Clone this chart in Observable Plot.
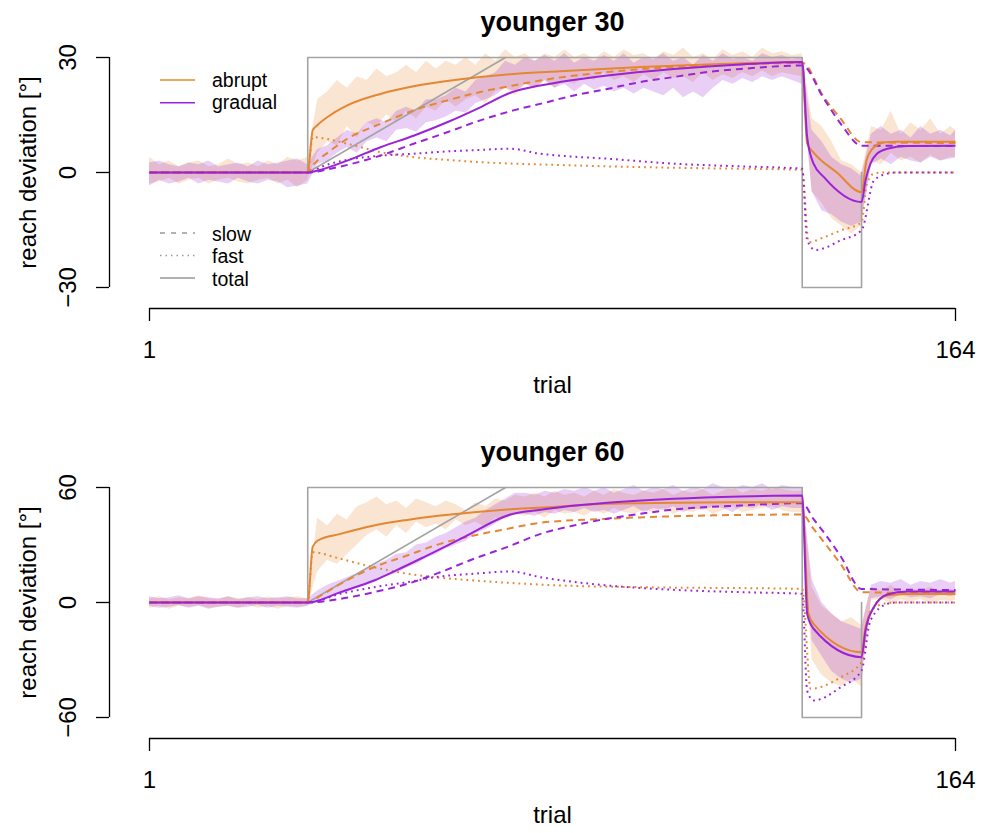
<!DOCTYPE html>
<html><head><meta charset="utf-8">
<script src="https://cdn.jsdelivr.net/npm/d3@7"></script>
<script src="https://cdn.jsdelivr.net/npm/@observablehq/plot@0.6"></script>
<style>
body{margin:0;background:#fff;}
#wrap{position:relative;width:991px;height:833px;font-family:"Liberation Sans",Arial,Helvetica,sans-serif;overflow:hidden;}
#p1,#p2{position:absolute;left:0;}
#p1{top:0}#p2{top:430px}
#legend{position:absolute;left:0;top:0;font-family:"Liberation Sans",Arial,Helvetica,sans-serif;}
</style></head><body>
<div id="wrap"><div id="p1"></div><div id="p2"></div><svg id="legend" width="300" height="300"></svg></div>
<script>
// ---------- text ----------
const panelTitles = ["younger 30", "younger 60"];
const yLabel = "reach deviation [°]";
const xLabel = "trial";
const groupLabels = ["abrupt", "gradual"];
const componentLabels = ["slow", "fast", "total"];
const xTicks = [1, 164];
const yTicks30 = [-30, 0, 30];
const yTicks60 = [-60, 0, 60];

// ---------- perturbation schedules [trial, deg] ----------
const schedule30Abrupt = [[1,0],[33,0],[33,30],[133,30],[133,-30],[145,-30],[145,0]];
const schedule30Gradual = [[33,0],[73,30]];
const schedule60Abrupt = [[1,0],[33,0],[33,60],[133,60],[133,-60],[145,-60],[145,0]];
const schedule60Gradual = [[33,0],[73,60]];

// ---------- model fits [trial, deg] (younger 30) ----------
const y30AbruptTotal = [[1,0],[33,0],[34,11],[35,12.4],[37.6,15],[41,17.5],[47.7,20.5],[54.4,22.5],[63.9,24.3],[74.6,25.7],[84,26.4],[100.3,27.5],[113.8,28.2],[133,28.8],[134,7.5],[135.3,5.2],[140,0],[145,-5.1],[146,3.1],[147.5,6.6],[149.4,7.8],[152,8],[164,8]];
const y30GradualTotal = [[1,0],[33,0],[35,0.5],[41,3.1],[47.7,6.6],[54.4,9.6],[61.2,13.1],[67.9,17],[74,20.8],[80,22.7],[84,23.6],[93.6,25.3],[107,27],[120.5,28.2],[133,28.8],[134,9.2],[135.3,2.3],[137.4,-1.2],[145,-7.7],[145.8,-2.1],[146.8,2.3],[148.1,4.9],[150.2,6.2],[154.2,6.9],[164,7]];
const y30AbruptSlow = [[1,0],[33,0],[34,1.8],[37.6,5.7],[41,8.8],[47.7,12.7],[54.4,16.2],[61.2,18.8],[67.9,21],[74.6,22.7],[80,24],[93.6,26.2],[107,27.5],[120.5,28.2],[133,28.6],[137.4,19.6],[140.8,14],[145,7.9],[164,7.7]];
const y30GradualSlow = [[1,0],[33,0],[37.6,1],[47.7,4.4],[54.4,7.5],[61.2,10.5],[67.9,13.6],[74.6,16.2],[80,17.9],[86.8,20.1],[93.6,21.8],[100.3,23.6],[107,24.9],[113.8,26.2],[120.5,27],[133,27.9],[137.4,19.2],[140.8,12.7],[145,7],[164,6.9]];
const y30AbruptFast = [[1,0],[33,0],[34,9.2],[41,7.5],[47.7,5.3],[54.4,4],[61.2,3.3],[67.9,2.7],[74.6,2.3],[80,2.1],[100.3,1.4],[113.8,1.1],[133,0.7],[134.3,-18.2],[137.4,-16.9],[140.8,-15.1],[145,-13],[146.1,-2.9],[147.5,-0.3],[149,0],[164,0]];
const y30GradualFast = [[1,0],[33,0],[35.6,1.4],[37.6,2.3],[41,3.3],[47.7,4.4],[54.4,4.9],[61.2,5.5],[67.9,5.9],[74,6.2],[80,4.9],[84,4.4],[93.6,3.6],[107,2.3],[120.5,1.6],[133,1],[134,-17.7],[135.7,-20.2],[140.8,-17.7],[145,-15.1],[147.5,-2.1],[150.2,-0.3],[152,0],[164,0]];

// ---------- model fits [trial, deg] (younger 60) ----------
const y60AbruptTotal = [[1,0],[33,0],[34,29],[35,32.3],[39.6,35.8],[46.4,40.2],[53.1,43.1],[59.8,45.4],[66.6,47.1],[73.3,48.5],[84.1,50.1],[93.6,51.5],[107,52],[120.5,52.3],[133,52.3],[134.3,-5.9],[135.3,-11.1],[145,-25.9],[145.8,-12.9],[147.5,-2.4],[150.2,3.7],[154.2,4.5],[164,4.5]];
const y60GradualTotal = [[1,0],[33,0],[34,0.3],[39.6,5.4],[46.4,11.5],[51.1,17],[56.5,23.7],[64.6,34.1],[74,45.9],[80.1,48.4],[84.1,49.7],[93.6,52],[107,54.1],[120.5,55.3],[133,55.8],[134,-5.9],[135.3,-13.7],[145,-28.5],[145.8,-14.6],[147.5,-2.4],[150.2,4.2],[154.2,5.7],[164,5.7]];
const y60AbruptSlow = [[1,0],[33,0],[35.6,3.6],[39.6,9.7],[46.4,18.4],[53.1,24.5],[59.8,30.6],[66.6,35],[73.3,38.4],[80.1,41.6],[93.6,43.7],[107,45],[120.5,45.7],[133,45.9],[135.3,38.4],[137.4,31.5],[140.8,20],[145,5.4],[164,4.8]];
const y60GradualSlow = [[1,0],[33,0],[39.6,1.9],[46.4,5.4],[53.1,9.7],[59.8,15.8],[66.6,22.8],[73.3,28.9],[80.1,35.8],[86.8,40.2],[93.6,43.7],[100.3,46.3],[107,48.5],[120.5,50.6],[133,51.8],[135.3,43.5],[137.4,36.5],[140.8,24],[145,7.1],[164,6.5]];
const y60AbruptFast = [[1,0],[33,0],[34,26.2],[39.6,22.8],[46.4,18.4],[53.1,15],[59.8,12.9],[66.6,11.5],[73.3,10.3],[84.1,8.9],[100.3,8],[133,7.1],[134.7,-45],[140.8,-39],[145,-31.1],[146.8,-4.2],[150.2,-0.3],[152,0],[164,0]];
const y60GradualFast = [[1,0],[33,0],[39.6,4.5],[46.4,8],[53.1,10.6],[59.8,13.6],[66.6,15],[74,16.2],[80.1,13.2],[93.6,8.9],[107,6.6],[120.5,5.4],[133,4.5],[134,-46],[135.3,-51.1],[140.8,-44.2],[145,-35.5],[146.8,-9.4],[150.2,-0.7],[152,0],[164,0]];

// ---------- data confidence bands (every other trial) ----------
const bandTrials = [1,3,5,7,9,11,13,15,17,19,21,23,25,27,29,31,
 33,35,37,39,41,43,45,47,49,51,53,55,57,59,61,63,65,67,69,71,
 73,75,77,79,81,83,85,87,89,91,93,95,97,99,101,103,105,107,109,111,
 113,115,117,119,121,123,125,127,129,131,
 133,135,137,139,141,143,
 145,147,149,151,153,155,157,159,161,163,164];

const y30AbruptHi = [4,2,3,1.5,2.5,3,1.5,2,3.5,2,2.5,1.5,3,2,4,3,
 4,19,21,24,22,25,24,27,25,26,
 28,26,29,27,29,28,30,28,31,29,
 32,30,31,29,31,30,32,30,31,29.5,
 31.5,30,32,30.5,31,29.5,31.5,30.5,32.5,30,
 31,29.5,32,30.5,31.5,30,32.5,31,31.5,30.5,
 31,14,12,8,3,2,
 0,12,11,16,10,13,11,14,10,12,
 11];
const y30AbruptLo = [-3,-2.5,-1.5,-3,-2,-1.5,-3,-2,-1.5,-2.5,-3,-2,-1.5,-3,-2,-4,
 -2,5,8,7,12,9,13,12,15,13,
 16,14,17,16,19,17,19,20,18,21,
 22,20,23,22,24,22,24,23,25,24,
 26,24,25,23.5,25.5,24,26,24.5,25,23.5,
 26,24,25.5,24.5,26,25,26.5,25,26,25.5,
 25,-5,-8,-12,-14,-16,
 -14,3,2,5,3,4,2.5,4.5,3,4,
 3.5];
const y30GradualHi = [2.5,3,2,1.5,2.5,2,3,1.5,2,2.5,1.5,3,2,2.5,3,3.5,
 2,6,7,9,11,10,13,14,13,16,
 17,16,19,19,20,22,21,24,25,26,
 29,28,30,29,30.5,29,31,28.5,30,29,
 30.5,29,31,28.5,30,29.5,31,29,30,28,
 30.5,29,31,29.5,30,29,31,30,30.5,29.5,
 30,11,8,4,2,1,
 -1,10,12,10,11,9,12,10,11,9.5,
 11];
const y30GradualLo = [-3.5,-2,-3,-2.5,-1.5,-3,-2,-2.5,-3,-1.5,-2.5,-3,-2,-2.5,-4,-3.5,
 -3,2,3,5,6.5,5,8,9,8,11,
 11.5,10.5,13,13.5,14.5,16,15.5,18,19,20,
 22,21,23,22,24,22,23,21,23,21.5,
 22.5,21,22,20.5,22,21,20,22,19.5,21,
 19.5,22,24,23,24.5,23.5,25,24,25,24,
 23,-5,-10,-11,-13,-14,
 -13,2,3.5,2,4,3,2.5,4,3,3.5,
 4];

const y60AbruptHi = [2,3,1.5,2.5,2,3.5,2,1.5,3,2,2.5,1.5,3,2,2.5,3,
 2,44,40,46,43,50,52,55,51,53,
 49,54,52,50,53,51,48,52,50,54,
 53,56,55,57,55,58,56,57,55,58,
 56,59,57,56,58,57,59,56,58,57,
 59,56,58,60,57,59,58,60,59,58,
 58,8,-2,-6,-10,-8,
 -12,8,6,9,5,7,6,8,5,7,
 6];
const y60AbruptLo = [-3,-2,-3.5,-2,-2.5,-1.5,-3,-2.5,-2,-3,-1.5,-3,-2,-3.5,-2,-2.5,
 -2,16,22,20,25,30,35,38,34,40,
 36,42,39,41,38,43,40,42,39,44,
 43,46,45,47,44,48,46,47,45,48,
 46,49,47,46,48,47,49,46,48,47,
 49,46,48,50,47,48,49,50,48,47,
 47,-30,-38,-42,-44,-40,
 -44,1,2,-1,1.5,0,2,-1,1,0.5,
 1];
const y60GradualHi = [3,2,2.5,3.5,2,3,2.5,2,3,1.5,2.5,3,2,2.5,3,2,
 2,6,9,11,13,15,18,20,22,25,
 26,30,31,34,36,39,42,44,48,51,
 54,57,57,56,58,57,59,58,60,58,
 60,57,59,61,58,60,59,61,58,60,
 59,62,60,59,61,60,62,59,61,60,
 60,12,0,-6,-10,-12,
 -14,9,11,10,12,9,11,10,12,10,
 11];
const y60GradualLo = [-2,-3,-2.5,-1.5,-3,-2,-3.5,-2.5,-2,-3,-2.5,-1.5,-3,-2,-2.5,-3,
 -2,0,2,4,5,8,9,11,14,15,
 18,20,23,25,28,30,32,36,38,41,
 44,46,46,45,47,46,48,47,49,47,
 48,46,48,50,47,49,48,50,47,49,
 48,50,49,47,50,49,51,48,50,49,
 49,-20,-28,-36,-40,-42,
 -40,2,3,1.5,4,2.5,3,2,4,3,
 3.5];

// ---------- styling ----------
const ORANGE = "#E48732", PURPLE = "#9B23D7", GRAY = "#A3A3A3";
const FONT = '"Liberation Sans", Arial, Helvetica, sans-serif';

const rows = arr => arr.map(([trial, value]) => ({trial, value}));
function bandRows(lo, hi) {
  if (lo.length !== bandTrials.length || hi.length !== bandTrials.length)
    throw new Error("band length mismatch " + lo.length + " " + hi.length + " vs " + bandTrials.length);
  return bandTrials.map((trial, i) => ({trial, lo: lo[i], hi: hi[i]}));
}
const fmtTick = d => d < 0 ? "\u2212" + Math.abs(d) : String(d);

function panel(p) {
  const H = p.height;
  const line = (arr, color, dash, w) => Plot.line(rows(arr), {
    x: "trial", y: "value", stroke: color, strokeWidth: w, curve: "monotone-x",
    strokeDasharray: dash, strokeLinecap: "butt"
  });
  return Plot.plot({
    width: 991, height: H,
    marginTop: 57, marginBottom: H - 287, marginLeft: 149, marginRight: 36,
    x: {domain: [xTicks[0], xTicks[1]], axis: null},
    y: {domain: [p.yTicks[0], p.yTicks[2]], axis: null},
    style: {fontFamily: FONT, background: "white", overflow: "visible"},
    marks: [
      Plot.areaY(bandRows(p.aLo, p.aHi), {x: "trial", y1: "lo", y2: "hi", fill: ORANGE, fillOpacity: 0.22}),
      Plot.areaY(bandRows(p.gLo, p.gHi), {x: "trial", y1: "lo", y2: "hi", fill: PURPLE, fillOpacity: 0.22}),
      Plot.line(rows(p.schedA), {x: "trial", y: "value", stroke: GRAY, strokeWidth: 1.6}),
      Plot.line(rows(p.schedG), {x: "trial", y: "value", stroke: GRAY, strokeWidth: 1.6}),
      line(p.aFast, ORANGE, "1.8,4", 2),
      line(p.gFast, PURPLE, "1.8,4", 2),
      line(p.aSlow, ORANGE, "7,5", 2),
      line(p.gSlow, PURPLE, "7,5", 2),
      line(p.aTotal, ORANGE, null, 2),
      line(p.gTotal, PURPLE, null, 2),
      // y axis
      Plot.ruleX([xTicks[0]], {y1: p.yTicks[0], y2: p.yTicks[2], dx: -40, stroke: "black", strokeWidth: 1.3}),
      Plot.axisY(p.yTicks, {anchor: "left", tickSize: 13, tickFormat: () => "", dx: -40, label: null, strokeWidth: 1.3}),
      Plot.text(p.yTicks, {y: d => d, frameAnchor: "left", textAnchor: "middle", lineAnchor: "middle", rotate: -90, dx: -81, text: fmtTick, fontSize: 24, fill: "black"}),
      Plot.text([yLabel], {frameAnchor: "left", textAnchor: "middle", lineAnchor: "middle", rotate: -90, dx: -121, fontSize: 24, fill: "black"}),
      // x axis
      Plot.ruleY([p.yTicks[0]], {x1: xTicks[0], x2: xTicks[1], dy: 21, stroke: "black", strokeWidth: 1.3}),
      Plot.axisX(xTicks, {anchor: "bottom", tickSize: 13, tickFormat: () => "", dy: 21, label: null, strokeWidth: 1.3}),
      Plot.text(xTicks, {x: d => d, frameAnchor: "bottom", lineAnchor: "middle", dy: 63, text: d => String(d), fontSize: 24, fill: "black"}),
      Plot.text([xLabel], {frameAnchor: "bottom", lineAnchor: "middle", dy: 98, fontSize: 24, fill: "black"}),
      // title
      Plot.text([p.title], {frameAnchor: "top", lineAnchor: "middle", dy: -35, fontSize: 27, fontWeight: "bold", fill: "black"})
    ]
  });
}

const panels = [
  {el: "#p1", height: 430, title: panelTitles[0], yTicks: yTicks30,
   aLo: y30AbruptLo, aHi: y30AbruptHi, gLo: y30GradualLo, gHi: y30GradualHi,
   schedA: schedule30Abrupt, schedG: schedule30Gradual,
   aTotal: y30AbruptTotal, gTotal: y30GradualTotal, aSlow: y30AbruptSlow, gSlow: y30GradualSlow,
   aFast: y30AbruptFast, gFast: y30GradualFast},
  {el: "#p2", height: 403, title: panelTitles[1], yTicks: yTicks60,
   aLo: y60AbruptLo, aHi: y60AbruptHi, gLo: y60GradualLo, gHi: y60GradualHi,
   schedA: schedule60Abrupt, schedG: schedule60Gradual,
   aTotal: y60AbruptTotal, gTotal: y60GradualTotal, aSlow: y60AbruptSlow, gSlow: y60GradualSlow,
   aFast: y60AbruptFast, gFast: y60GradualFast}
];
for (const p of panels) document.querySelector(p.el).appendChild(panel(p));

// ---------- legend (top panel) ----------
const leg = d3.select("#legend");
const groupColors = [ORANGE, PURPLE];
groupLabels.forEach((lab, i) => {
  const y = 80 + i * 22.7;
  leg.append("line").attr("x1", 160).attr("x2", 195).attr("y1", y).attr("y2", y)
    .attr("stroke", groupColors[i]).attr("stroke-width", 1.6);
  leg.append("text").attr("x", 212).attr("y", y + 6.5).attr("font-size", 19.5).attr("fill", "black").text(lab);
});
const compDash = ["5,6", "1.5,4", null];
componentLabels.forEach((lab, i) => {
  const y = 233 + i * 22.5;
  const ln = leg.append("line").attr("x1", 160).attr("x2", 195).attr("y1", y).attr("y2", y)
    .attr("stroke", "#999").attr("stroke-width", 1.4);
  if (compDash[i]) ln.attr("stroke-dasharray", compDash[i]);
  leg.append("text").attr("x", 212).attr("y", y + 7.5).attr("font-size", 19.5).attr("fill", "black").text(lab);
});
</script>
</body></html>
